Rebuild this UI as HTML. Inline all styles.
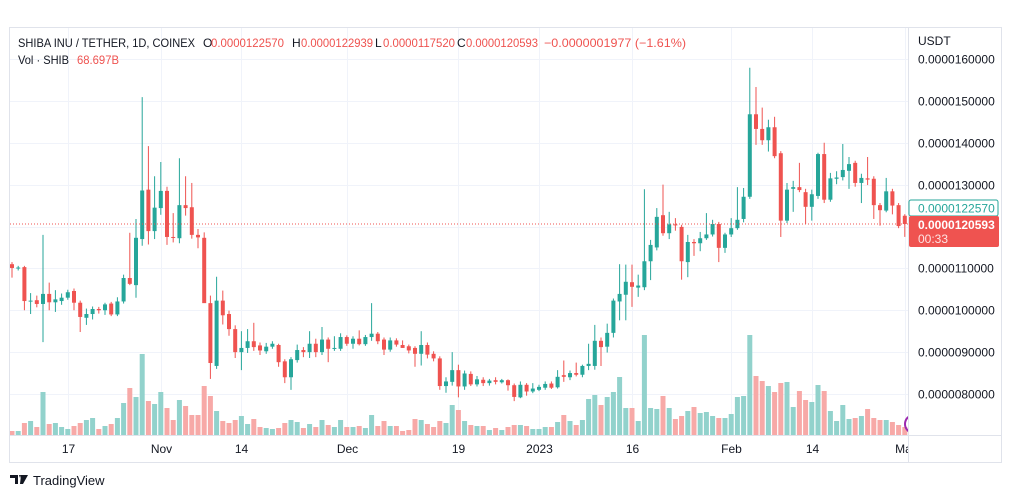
<!DOCTYPE html>
<html><head><meta charset="utf-8">
<style>
html,body{margin:0;padding:0;background:#fff;}
svg{display:block;font-family:"Liberation Sans",sans-serif;}
</style></head>
<body>
<svg id="chart" width="1012" height="498" viewBox="0 0 1012 498" xmlns="http://www.w3.org/2000/svg">
<defs><clipPath id="plotclip"><rect x="10" y="28" width="898" height="407"/></clipPath>
<clipPath id="timeclip"><rect x="10" y="436" width="898" height="26"/></clipPath></defs>
<rect x="9.5" y="27.5" width="992" height="435" fill="#fff" stroke="#e0e3eb"/>
<g id="grid"></g>
<g id="vol" clip-path="url(#plotclip)"></g>
<g id="candles" clip-path="url(#plotclip)"></g>
<line x1="10" y1="224" x2="908" y2="224" stroke="#ef5350" stroke-width="1" stroke-dasharray="1,2"/>
<line x1="908.5" y1="28" x2="908.5" y2="462" stroke="#e0e3eb"/>
<line x1="10" y1="435.5" x2="1001" y2="435.5" stroke="#e0e3eb"/>
<g id="yaxis"></g>
<g id="xaxis"></g>
<text x="918" y="45" font-size="12" fill="#131722">USDT</text>
<rect x="909" y="200" width="89" height="16" fill="#fff" stroke="#26a69a" rx="2"/>
<text x="918" y="212.5" font-size="12" fill="#26a69a">0.0000122570</text>
<rect x="909" y="216" width="90" height="31" fill="#ef5350" rx="2"/>
<text x="918" y="229" font-size="12" font-weight="bold" fill="#fff">0.0000120593</text>
<text x="918" y="243" font-size="12" fill="#fde4e3">00:33</text>
<circle cx="914" cy="424" r="9" fill="none" stroke="#9c27b0" stroke-width="2" clip-path="url(#plotclip)"/>
<g font-size="12">
<text x="18" y="47" fill="#131722" textLength="177" lengthAdjust="spacingAndGlyphs">SHIBA INU / TETHER, 1D, COINEX</text>
<text x="203" y="47" fill="#131722">O</text>
<text x="211" y="47" fill="#ef5350" textLength="73" lengthAdjust="spacingAndGlyphs">0.0000122570</text>
<text x="292" y="47" fill="#131722">H</text>
<text x="301" y="47" fill="#ef5350" textLength="72" lengthAdjust="spacingAndGlyphs">0.0000122939</text>
<text x="375" y="47" fill="#131722">L</text>
<text x="383" y="47" fill="#ef5350" textLength="72" lengthAdjust="spacingAndGlyphs">0.0000117520</text>
<text x="457" y="47" fill="#131722">C</text>
<text x="466" y="47" fill="#ef5350" textLength="72" lengthAdjust="spacingAndGlyphs">0.0000120593</text>
<text x="544" y="47" fill="#ef5350" textLength="142" lengthAdjust="spacingAndGlyphs">−0.0000001977 (−1.61%)</text>
</g>
<g font-size="12">
<text x="18" y="64" fill="#131722" textLength="51" lengthAdjust="spacingAndGlyphs">Vol · SHIB</text>
<text x="77" y="64" fill="#ef5350" textLength="42" lengthAdjust="spacingAndGlyphs">68.697B</text>
</g>
<g>
<path d="M10 475 h8 v9 h-3 v-6 h-5z M19 475 h2 l-1 3z M21 475 h7 l-5 9 h-3z" fill="#131722"/>
<text x="33" y="485" font-size="13" fill="#131722">TradingView</text>
</g>
</svg>
<script>
const opens=[111.0,110.1,110.3,102.2,102.4,101.5,103.9,101.9,102.2,103.0,104.6,101.8,98.2,99.1,100.3,100.0,101.6,99.0,102.1,107.7,106.0,117.0,128.8,118.9,124.4,128.5,117.5,117.2,125.1,124.6,118.0,117.3,101.7,86.7,102.3,99.1,95.5,90.0,91.0,92.6,91.6,90.2,91.3,91.7,87.8,84.0,88.1,90.5,90.0,92.0,90.0,93.0,90.8,90.8,93.6,92.0,93.2,91.9,93.6,94.4,93.0,90.6,92.8,91.7,91.4,91.0,89.6,91.7,89.6,88.5,81.9,82.9,85.7,81.8,84.8,82.3,83.4,82.6,83.3,82.8,83.3,82.1,79.2,82.2,80.6,81.0,81.5,82.5,81.6,84.5,84.0,85.0,84.6,86.7,86.7,92.7,91.3,94.6,102.1,103.7,106.7,105.4,105.5,111.7,115.0,122.7,118.4,120.5,119.9,111.5,116.3,116.0,117.2,118.1,120.6,114.9,118.1,119.6,121.8,127.1,146.8,143.3,140.6,143.7,137.5,121.4,129.0,129.4,128.2,124.7,127.3,137.3,126.4,131.4,131.8,133.3,135.2,130.4,131.5,131.4,125.1,123.8,128.4,125.1,122.57];
const highs=[111.5,110.6,110.6,104.1,103.5,118.0,106.6,104.8,104.0,104.9,105.2,102.3,100.4,100.9,100.8,101.8,102.0,103.1,108.5,118.5,121.8,150.9,139.2,132.0,135.4,129.5,123.2,136.3,132.0,130.4,119.4,118.6,103.5,108.0,104.7,99.9,96.4,95.0,95.5,97.0,92.3,92.2,92.6,92.0,88.3,88.8,91.8,91.2,95.0,93.2,96.0,93.5,93.8,94.5,94.0,93.8,95.2,94.1,101.7,94.8,93.5,93.5,93.3,92.8,91.8,91.4,95.0,92.3,90.2,89.0,84.0,90.0,87.0,85.6,85.4,84.3,84.0,83.6,84.0,83.6,83.5,82.5,83.0,82.6,82.6,82.2,83.0,83.0,85.7,88.0,85.6,87.5,87.0,92.0,96.5,93.5,96.8,102.8,111.0,110.9,110.9,108.5,128.9,116.8,124.4,130.0,123.5,122.0,120.4,118.0,117.0,118.7,123.2,121.6,121.1,118.5,122.0,129.4,129.2,157.9,153.3,148.4,145.5,146.2,138.0,130.4,130.9,135.2,129.0,128.8,137.6,140.0,132.8,133.2,139.7,136.6,135.7,132.6,136.6,132.0,125.6,131.6,129.0,125.6,122.94];
const lows=[107.8,109.5,100.0,99.1,100.7,92.4,100.0,99.6,101.3,102.5,100.0,94.8,96.5,97.8,99.2,98.9,98.6,98.6,101.6,106.0,103.0,115.4,115.7,117.0,122.8,115.6,116.2,116.0,122.6,117.1,114.8,105.5,83.6,86.0,96.6,93.9,88.6,85.7,89.8,90.3,89.3,89.6,90.8,86.5,82.6,81.0,87.5,88.8,88.6,88.8,89.3,87.6,90.3,90.3,91.5,90.8,91.6,91.5,92.7,91.9,89.3,90.1,91.3,91.0,89.7,86.5,86.8,88.5,87.8,81.0,80.3,82.0,79.2,81.0,81.9,81.8,81.9,82.0,82.3,82.5,80.8,78.3,79.0,79.6,80.2,80.7,81.0,81.2,81.3,82.9,83.3,84.2,84.0,85.7,85.8,86.7,89.9,93.5,97.6,97.6,100.8,103.2,104.8,107.2,114.3,117.8,117.0,119.0,107.3,107.9,113.0,114.1,116.8,117.6,111.5,113.7,117.5,119.2,121.0,126.6,139.5,139.5,137.9,136.3,117.5,120.8,123.5,128.2,120.6,121.4,126.6,125.6,125.9,130.1,131.0,129.0,129.5,125.6,129.9,121.8,120.2,123.4,122.9,119.6,117.52];
const closes=[110.1,110.2,102.2,102.3,101.5,103.9,101.9,102.6,103.0,104.3,101.8,98.4,99.1,100.3,100.0,101.4,99.0,102.1,107.7,106.3,117.3,128.6,118.9,124.5,128.5,117.5,117.3,125.1,124.4,118.0,117.4,101.7,87.4,102.3,98.8,95.5,90.0,91.0,92.6,91.2,90.4,91.3,92.0,87.6,84.0,88.3,90.5,90.0,92.0,90.0,93.0,90.8,91.0,93.6,92.0,93.2,91.9,93.6,94.4,92.6,90.6,92.8,91.8,91.0,90.4,89.6,91.7,89.4,88.5,81.9,83.0,85.7,81.8,84.9,82.3,83.5,82.6,83.2,82.9,83.3,82.1,79.3,82.2,80.6,81.3,81.7,82.4,81.5,84.1,84.1,85.0,84.6,86.7,87.2,92.7,91.2,94.6,102.3,103.9,106.8,105.6,105.9,111.7,115.6,122.3,118.4,120.5,120.3,111.7,116.3,116.0,117.2,118.1,120.6,114.9,118.1,119.6,121.6,127.1,146.8,143.3,140.6,143.7,136.8,121.4,128.8,129.4,128.7,124.7,127.7,137.3,126.4,131.5,131.7,133.5,134.9,130.4,131.6,131.2,125.1,123.9,128.4,125.0,120.1,120.59];
const volumes=[4,4,12,14,8,43,11,12,8,6,9,12,15,17,6,9,11,17,32,47,38,81,34,31,43,27,15,35,29,20,20,49,39,24,14,12,15,19,11,16,8,7,6,7,12,15,13,7,11,8,15,10,8,15,8,8,9,7,20,9,14,9,9,4,5,16,15,11,8,14,12,30,25,14,10,9,9,5,7,5,8,10,10,9,6,6,8,8,13,20,14,10,15,36,40,30,38,43,58,27,27,14,100,27,26,39,27,16,19,24,28,22,23,19,17,17,21,38,39,100,59,54,49,43,52,53,28,44,35,33,50,44,24,14,30,16,17,19,26,17,15,15,13,10,8];
const priceTicks=[160,150,140,130,120,110,100,90,80];
const priceTickLabels=["0.0000160000","0.0000150000","0.0000140000","0.0000130000","","0.0000110000","0.0000100000","0.0000090000","0.0000080000"];
const timeTickIdx=[9,24,37,54,72,85,100,116,129,144];
const timeTickLabels=["17","Nov","14","Dec","19","2023","16","Feb","14","Mar"];

const NS="http://www.w3.org/2000/svg";
const xOf=i=>12+i*6.2;
const yOf=v=>59+(160-v)*4.1875;
const vBase=435, vScale=1.0;
function mk(tag,attrs,parent){const e=document.createElementNS(NS,tag);for(const k in attrs)e.setAttribute(k,attrs[k]);parent.appendChild(e);return e;}
const grid=document.getElementById('grid'),vol=document.getElementById('vol'),cg=document.getElementById('candles'),ya=document.getElementById('yaxis'),xa=document.getElementById('xaxis');
priceTicks.forEach((v,k)=>{
  const y=Math.round(yOf(v))+0.5;
  const gl=mk('line',{x1:10,x2:908,y1:y,y2:y,stroke:'#f0f3fa'},grid);
  
  
  if(priceTickLabels[k]){
    const t=mk('text',{x:918,y:y+4,'font-size':12,fill:'#131722'},ya);
    t.textContent=priceTickLabels[k];
    
    
  }
});
timeTickIdx.forEach((i,k)=>{
  const x=Math.round(xOf(i))+0.5;
  const gl=mk('line',{x1:x,x2:x,y1:28,y2:435,stroke:'#f0f3fa'},grid);
  
  
  const t=mk('text',{x:x,y:453,'font-size':12,fill:'#131722','text-anchor':'middle','clip-path':'url(#timeclip)'},xa);
  t.textContent=timeTickLabels[k];
  
  
});
for(let i=0;i<opens.length;i++){
  const up=closes[i]>=opens[i];
  const col=up?'#26a69a':'#ef5350';
  const x=xOf(i);
  const vb=mk('rect',{x:x-2.5,y:vBase-volumes[i]*vScale,width:5,height:volumes[i]*vScale,fill:up?'#92d2cc':'#f7a9a7'},vol);
  
  
  const w=mk('line',{x1:x,x2:x,y1:yOf(highs[i]),y2:yOf(lows[i]),stroke:col,'stroke-width':1},cg);
  
  
  const top=yOf(Math.max(opens[i],closes[i])),bot=yOf(Math.min(opens[i],closes[i]));
  const b=mk('rect',{x:x-2,y:top,width:4,height:Math.max(1,bot-top),fill:col},cg);
  
  
}
</script>
</body></html>
